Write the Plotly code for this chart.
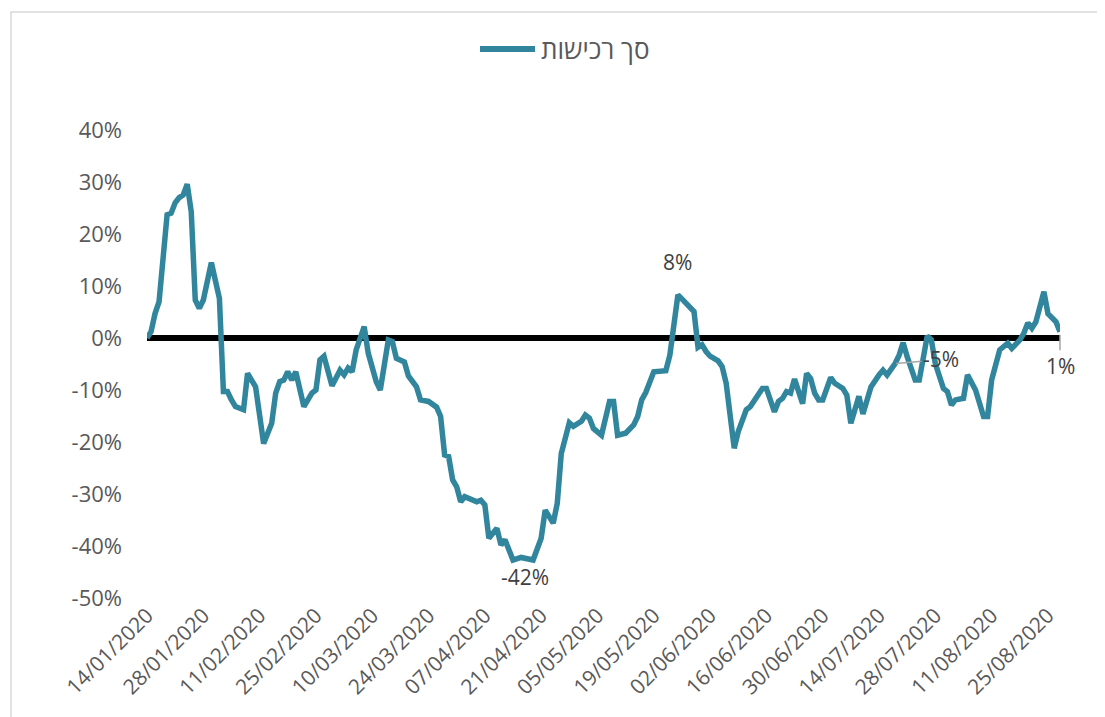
import datetime as dt
import plotly.graph_objects as go

# ---- data ----
series_name = "סך רכישות"
start_date = dt.date(2020, 1, 14)
end_date = dt.date(2020, 8, 28)

day_offsets = [0, 1, 2, 3, 5, 6, 7, 8, 9, 10, 11, 12, 13, 14, 16, 18, 19, 20, 21, 22, 24, 25, 27, 28, 29,
               31, 32, 33, 34, 35, 36, 37, 39, 41, 42, 43, 44, 46, 48, 49, 50, 51, 52, 54, 55, 57, 58, 60,
               61, 62, 64, 65, 67, 68, 70, 72, 73, 74, 75, 76, 77, 78, 79, 82, 83, 84, 85, 87, 88, 89, 91,
               93, 94, 96, 98, 99, 101, 102, 103, 105, 106, 108, 109, 110, 111, 113, 115, 116, 117, 119,
               121, 122, 123, 124, 126, 128, 129, 130, 131, 132, 134, 136, 137, 138, 139, 140, 142, 143,
               144, 146, 147, 149, 150, 152, 153, 154, 156, 157, 158, 159, 160, 161, 162, 163, 164, 165,
               166, 167, 168, 170, 171, 173, 174, 175, 176, 177, 178, 179, 180, 182, 183, 184, 186, 187,
               188, 189, 191, 192, 194, 195, 196, 198, 199, 200, 201, 203, 204, 206, 208, 209, 210, 212,
               214, 215, 217, 218, 219, 220, 221, 223, 224, 226, 227]

values_pct = [0.0, 1.2, 4.7, 7.0, 23.7, 24.0, 26.0, 27.0, 27.5, 29.6, 24.3, 7.3, 5.7, 7.3, 14.5, 7.6, -10.3,
              -10.3, -11.9, -13.2, -13.8, -6.8, -9.4, -14.5, -20.3, -16.4, -10.6, -8.4, -8.1, -6.5, -8.1,
              -6.5, -13.2, -10.6, -10.0, -4.2, -3.5, -9.2, -6.2, -7.1, -5.8, -6.5, -2.3, 2.2, -2.9, -8.4,
              -10.0, -0.4, -0.7, -3.9, -4.6, -7.3, -9.4, -11.9, -12.2, -13.3, -15.1, -22.5, -22.8, -27.3,
              -28.6, -31.5, -30.5, -31.5, -31.2, -32.1, -38.5, -36.6, -39.8, -38.8, -42.7, -42.2, -42.4,
              -42.7, -38.5, -33.1, -35.6, -31.8, -22.2, -16.3, -17.0, -16.0, -14.8, -15.4, -17.4, -18.7,
              -12.2, -12.2, -18.7, -18.3, -16.7, -15.1, -11.9, -10.5, -6.5, -6.2, -6.3, -3.3, 2.2, 8.3,
              6.7, 5.1, -1.8, -1.3, -2.6, -3.5, -4.4, -5.5, -8.7, -21.2, -18.0, -13.8, -13.2, -10.6, -9.7,
              -9.7, -14.2, -12.2, -11.6, -10.3, -10.6, -7.9, -10.6, -12.6, -6.8, -7.8, -10.6, -11.9, -11.9,
              -7.6, -8.7, -9.7, -11.0, -16.4, -13.8, -11.2, -14.6, -11.9, -9.4, -7.1, -6.2, -7.1, -4.9,
              -3.3, -0.9, -3.6, -8.1, -8.1, 0.4, -0.3, -4.9, -9.7, -10.3, -12.9, -11.9, -11.6, -7.1, -10.0,
              -15.1, -15.1, -8.1, -2.3, -1.0, -2.0, -0.4, 0.9, 2.9, 1.9, 3.1, 8.9, 4.7, 3.1, 1.2]

tick_dates = ["2020-01-14", "2020-01-28", "2020-02-11", "2020-02-25", "2020-03-10", "2020-03-24",
              "2020-04-07", "2020-04-21", "2020-05-05", "2020-05-19", "2020-06-02", "2020-06-16",
              "2020-06-30", "2020-07-14", "2020-07-28", "2020-08-11", "2020-08-25"]
tick_labels = ["14/01/2020", "28/01/2020", "11/02/2020", "25/02/2020", "10/03/2020", "24/03/2020",
               "07/04/2020", "21/04/2020", "05/05/2020", "19/05/2020", "02/06/2020", "16/06/2020",
               "30/06/2020", "14/07/2020", "28/07/2020", "11/08/2020", "25/08/2020"]

y_ticks = [0.4, 0.3, 0.2, 0.1, 0.0, -0.1, -0.2, -0.3, -0.4, -0.5]
y_tick_labels = ["40%", "30%", "20%", "10%", "0%", "-10%", "-20%", "-30%", "-40%", "-50%"]

# labelled points: (day offset, text)
label_peak = (132, "8%")
label_min = (94, "-42%")
label_mid = (186, "-5%")
label_last = (227, "1%")

# ---- build ----
dates = [start_date + dt.timedelta(days=d) for d in day_offsets]
values = [v / 100 for v in values_pct]
lookup = dict(zip(day_offsets, values))

def date_of(d):
    return start_date + dt.timedelta(days=d)

LINE = "#31859C"
TXT = "#595959"
LBL = "#404040"
FONT = "Open Sans, DejaVu Sans, sans-serif"

# plot area geometry (figure pixels; page adds an 8px body margin)
ML, MR, MT, MB = 139, 53, 122, 127
PW = 1105 - ML - MR
PH = 717 - MT - MB

def px_x(px):
    return (px - ML) / PW

def px_y(py):
    return 1 - (py - MT) / PH

fig = go.Figure()
fig.add_trace(go.Scatter(
    x=dates, y=values, mode="lines", name=series_name,
    line=dict(color=LINE, width=5.5), hoverinfo="skip", showlegend=False,
))

ann_font = dict(family=FONT, size=21, color=LBL)
fig.add_annotation(x=date_of(label_peak[0]), y=lookup[label_peak[0]], text=label_peak[1],
                   showarrow=False, yshift=33, font=ann_font)
fig.add_annotation(x=date_of(label_min[0]), y=lookup[label_min[0]], text=label_min[1],
                   showarrow=False, yshift=-19, font=ann_font)
fig.add_annotation(x=date_of(label_mid[0]), y=lookup[label_mid[0]], text=label_mid[1],
                   showarrow=True, arrowhead=0, arrowwidth=1.5, arrowcolor="#A6A6A6",
                   ax=46, ay=-4, standoff=1, font=ann_font)
fig.add_annotation(x=date_of(label_last[0]), y=lookup[label_last[0]], text=label_last[1],
                   showarrow=True, arrowhead=0, arrowwidth=1.5, arrowcolor="#A6A6A6",
                   ax=0, ay=34, standoff=3, font=ann_font)

# legend drawn by hand (long line sample, as in the reference)
fig.add_shape(type="line", xref="paper", yref="paper", x0=px_x(472), x1=px_x(527),
              y0=px_y(41), y1=px_y(41), line=dict(color=LINE, width=6))
fig.add_annotation(xref="paper", yref="paper", x=px_x(531), y=px_y(41), text=series_name,
                   showarrow=False, xanchor="left", yanchor="middle",
                   font=dict(family=FONT, size=26, color=TXT))

# chart frame (light border, running off the right and bottom edge)
fig.add_shape(type="rect", xref="paper", yref="paper", x0=px_x(3), x1=px_x(1200),
              y0=px_y(800), y1=px_y(4),
              line=dict(color="#D9D9D9", width=1.5), fillcolor="rgba(0,0,0,0)", layer="below")

fig.update_layout(
    template="none",
    width=1105, height=717,
    margin=dict(l=ML, r=MR, t=MT, b=MB, autoexpand=False),
    paper_bgcolor="white", plot_bgcolor="white",
    showlegend=False,
    xaxis=dict(type="date", range=[start_date, end_date], tickvals=tick_dates, ticktext=tick_labels,
               tickangle=-45, showgrid=False, zeroline=False, showline=False, ticks="",
               automargin=False, tickfont=dict(family=FONT, size=21, color=TXT)),
    yaxis=dict(range=[-0.5, 0.4], tickvals=y_ticks, ticktext=y_tick_labels, showgrid=False,
               zeroline=True, zerolinecolor="black", zerolinewidth=6, showline=False, ticks="",
               ticklabelstandoff=24, automargin=False,
               tickfont=dict(family=FONT, size=22, color=TXT)),
    font=dict(family=FONT),
)

fig.write_html("out.html")
